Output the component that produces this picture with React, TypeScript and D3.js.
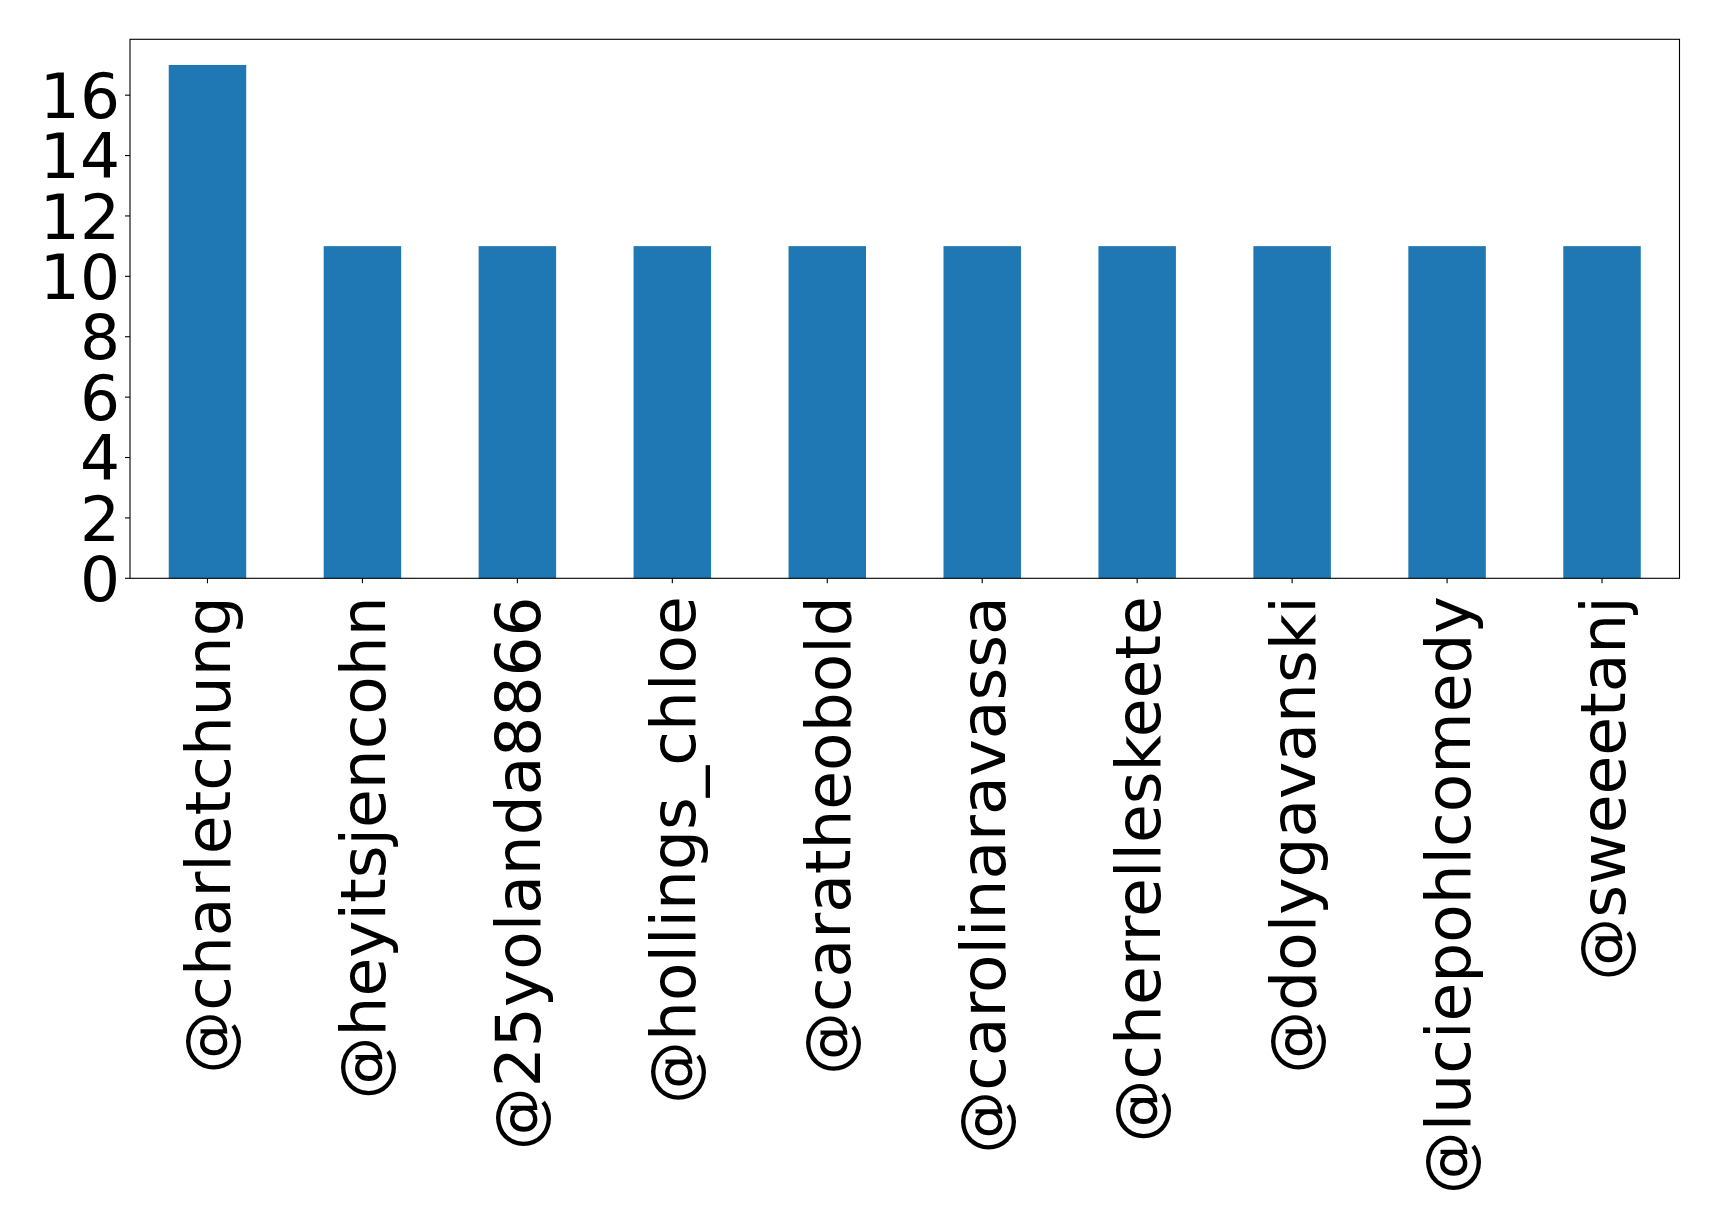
import React from "react";
import * as d3 from "d3";

const categories = [
  "@charletchung",
  "@heyitsjencohn",
  "@25yolanda8866",
  "@hollings_chloe",
  "@caratheobold",
  "@carolinaravassa",
  "@cherrelleskeete",
  "@dolygavanski",
  "@luciepohlcomedy",
  "@sweeetanj",
];
const values = [17, 11, 11, 11, 11, 11, 11, 11, 11, 11];
const yTicks = [0, 2, 4, 6, 8, 10, 12, 14, 16];

export default function App() {
  const W = 1719, H = 1221;
  const left = 130, right = 1679.5, top = 39.3, bottom = 578.3;
  const fs = 63;
  const x = d3.scaleBand<string>().domain(categories).range([left, right]).paddingInner(0.5).paddingOuter(0.25);
  const y = d3.scaleLinear().domain([0, 17 * 1.05]).range([bottom, top]);
  const font = "'DejaVu Sans', sans-serif";
  return (
    <svg width={W} height={H} style={{ position: "absolute", left: 0, top: 0, background: "#fff" }}>
      <rect x={0} y={0} width={W} height={H} fill="#fff" />
      {categories.map((c, i) => (
        <rect key={c} x={x(c)!} y={y(values[i])} width={x.bandwidth()} height={y(0) - y(values[i])} fill="#1f77b4" />
      ))}
      <rect x={left} y={top} width={right - left} height={bottom - top} fill="none" stroke="#000" strokeWidth={1.1} />
      {yTicks.map((t) => (
        <g key={t}>
          <line x1={left - 5} x2={left} y1={y(t)} y2={y(t)} stroke="#000" strokeWidth={1.1} />
          <text x={left - 10} y={y(t)} dy="0.36em" textAnchor="end" fontFamily={font} fontSize={fs} fill="#000">{t}</text>
        </g>
      ))}
      {categories.map((c) => {
        const cx = x(c)! + x.bandwidth() / 2;
        return (
          <g key={c}>
            <line x1={cx} x2={cx} y1={bottom} y2={bottom + 5} stroke="#000" strokeWidth={1.1} />
            <text transform={`translate(${cx},${bottom + 18}) rotate(-90)`} textAnchor="end" dy="0.36em" fontFamily={font} fontSize={fs} fill="#000">{c}</text>
          </g>
        );
      })}
    </svg>
  );
}
